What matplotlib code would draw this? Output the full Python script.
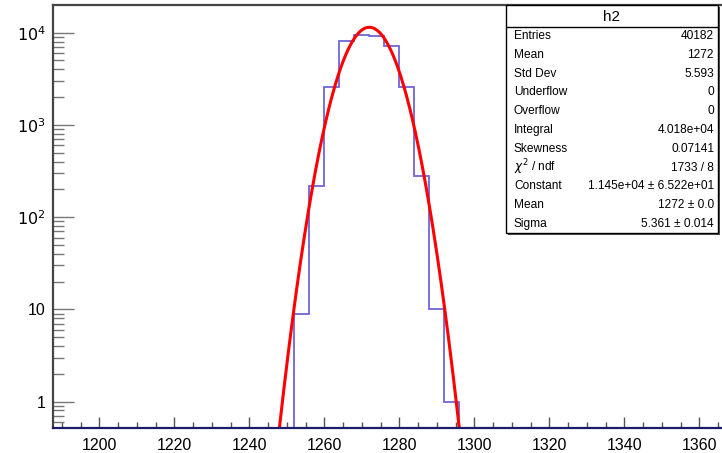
import numpy as np
import matplotlib
matplotlib.use("Agg")
import matplotlib.pyplot as plt
from matplotlib.patches import Rectangle
from matplotlib.ticker import FixedLocator, FuncFormatter, LogLocator, MultipleLocator

plt.rcParams['font.family'] = ['Liberation Sans', 'DejaVu Sans']

# histogram h2 (bin width 4)
bin_edges = [1252, 1256, 1260, 1264, 1268, 1272, 1276, 1280, 1284, 1288, 1292, 1296]
bin_counts = [9, 219, 2560, 8130, 9440, 9200, 7230, 2600, 279, 10, 1]

# gaussian fit parameters
fit_constant = 1.145e4
fit_mean = 1272.0
fit_sigma = 5.361
fit_range = (1248, 1296)

# stats box
stats_title = "h2"
stats_labels = ["Entries", "Mean", "Std Dev", "Underflow", "Overflow", "Integral",
                "Skewness", r"$\chi^{2}$ / ndf", "Constant", "Mean", "Sigma"]
stats_values = ["40182", "1272", "5.593", "0", "0", "4.018e+04", "0.07141",
                "1733 / 8", "1.145e+04 \u00b1 6.522e+01", "1272 \u00b1 0.0", "5.361 \u00b1 0.014"]

W, H = 722, 453
fig = plt.figure(figsize=(W / 100, H / 100), dpi=100)

# main frame (pixel layout of the reference)
left_px, right_px, top_px, bottom_px = 52.5, 724, 5, 428
ax = fig.add_axes([left_px / W, 1 - bottom_px / H, (right_px - left_px) / W, (bottom_px - top_px) / H])

ax.stairs(bin_counts, bin_edges, baseline=1e-3, color='#6f66d8', linewidth=1.3)

xf = np.linspace(fit_range[0], fit_range[1], 500)
yf = fit_constant * np.exp(-0.5 * ((xf - fit_mean) / fit_sigma) ** 2)
ax.plot(xf, yf, color='#ff0000', linewidth=2.2)

ax.set_yscale('log')
ax.set_xlim(1187.5, 1366.6)
ax.set_ylim(0.516, 19970)

ax.xaxis.set_major_locator(MultipleLocator(20))
ax.xaxis.set_minor_locator(MultipleLocator(5))
ax.yaxis.set_major_locator(FixedLocator([1, 10, 100, 1000, 10000]))
ax.yaxis.set_minor_locator(LogLocator(base=10, subs=np.arange(2, 10)))


def ylab(v, pos):
    if v < 50:
        return "%d" % round(v)
    return r"$10^{%d}$" % round(np.log10(v))


ax.yaxis.set_major_formatter(FuncFormatter(ylab))
ax.yaxis.set_minor_formatter(FuncFormatter(lambda v, p: ""))

ax.tick_params(axis='x', which='major', direction='in', length=8, width=1, color='#555555',
               labelsize=11.5, pad=7, top=False)
ax.tick_params(axis='x', which='minor', direction='in', length=4.3, width=1, color='#555555', top=False)
ax.tick_params(axis='y', which='major', direction='in', length=15, width=1, color='#777777',
               labelsize=11.5, pad=5, right=False)
ax.tick_params(axis='y', which='minor', direction='in', length=8, width=1, color='#777777', right=False)

for side in ['left', 'top']:
    ax.spines[side].set_color('#444444')
    ax.spines[side].set_linewidth(1.6)
ax.spines['bottom'].set_color('#1c1c6a')
ax.spines['bottom'].set_linewidth(1.6)
ax.spines['right'].set_visible(False)

# stats box
bx0, bx1, by0, by1 = 506, 720, 5, 235
sax = fig.add_axes([bx0 / W, 1 - by1 / H, (bx1 - bx0) / W, (by1 - by0) / H])
sax.set_xlim(0, bx1 - bx0)
sax.set_ylim(by1 - by0, 0)
sax.axis('off')
bw, bh = bx1 - bx0, by1 - by0
sax.add_patch(Rectangle((1.5, 1.5), bw - 1.5, bh - 1.5, facecolor='#555555', edgecolor='none', clip_on=False))
sax.add_patch(Rectangle((0, 0), bw - 2, bh - 2, facecolor='white', edgecolor='black', linewidth=1, clip_on=False))
sax.plot([0, bw - 2], [22, 22], color='black', linewidth=1)
sax.text((bw - 2) / 2, 12, stats_title, ha='center', va='center', fontsize=11)

row_y = 36 - by0
for lab, val in zip(stats_labels, stats_values):
    sax.text(8, row_y, lab, ha='left', va='center', fontsize=8.6)
    sax.text(bw - 6, row_y, val, ha='right', va='center', fontsize=8.6)
    row_y += 18.8

fig.savefig("out.png", dpi=100)
